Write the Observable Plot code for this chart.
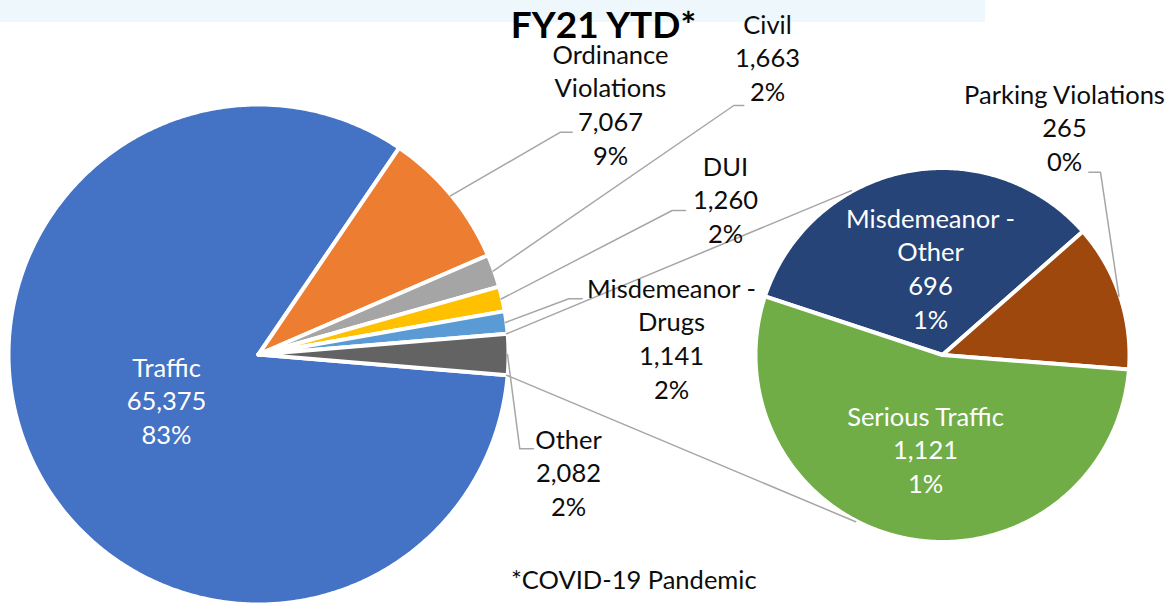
<!DOCTYPE html>
<html><head><meta charset="utf-8">
<script src="https://cdn.jsdelivr.net/npm/d3@7"></script>
<script src="https://cdn.jsdelivr.net/npm/@observablehq/plot@0.6"></script>
<style>
html,body{margin:0;padding:0;background:#fff;}
#wrap{position:relative;width:1171px;height:603px;overflow:hidden;}
#band{position:absolute;left:0;top:0;width:985px;height:22px;background:#EEF7FB;}
#chart{position:absolute;left:0;top:0;}
</style></head>
<body><div id="wrap"><div id="band"></div><div id="chart"></div></div>
<script>
// ---- data ----
const mainLabels = ["Traffic", "Ordinance\nViolations", "Civil", "DUI", "Misdemeanor -\nDrugs", "Other"];
const mainValues = [65375, 7067, 1663, 1260, 1141, 2082];
const mainPct = ["83%", "9%", "2%", "2%", "2%", "2%"];
const subLabels = ["Misdemeanor -\nOther", "Parking Violations", "Serious Traffic"];
const subValues = [696, 265, 1121];
const subPct = ["1%", "0%", "1%"];
const mainColors = ["#4472C4", "#ED7D31", "#A5A5A5", "#FFC000", "#5B9BD5", "#636363"];
const subColors = ["#264478", "#9E480E", "#70AD47"];
const titleText = "FY21 YTD*";
const noteText = "*COVID-19 Pandemic";

// ---- layout ----
const W = 1171, H = 603;
const FONT = "Lato, 'Open Sans', sans-serif";
const FS = 25.5, LINE = 33.7;
const mainPie = {cx: 258, cy: 354, r: 250};
const subPie = {cx: 942, cy: 354.5, r: 187, start: -71.7};
// label placement: centre x, first baseline y, leader elbow [x,y] and end x, white text?
const mainLayout = [
  {x: 166, y: 376, white: true},
  {x: 610, y: 63, elbow: [560, 131.7], end: 571.7},
  {x: 767, y: 33, elbow: [733.3, 105], end: 743.3},
  {x: 725, y: 175, elbow: [671.7, 210], end: 685},
  {x: 671, y: 297, elbow: [568.3, 298.3], end: 581.7},
  {x: 568, y: 448, elbow: [519.3, 448.3], end: 533}
];
const subLayout = [
  {x: 930, y: 227, white: true},
  {x: 1064, y: 103, elbow: [1100, 171.7], end: 1088.3},
  {x: 925, y: 425, white: true}
];
const connectorEnds = [-29, 207.5]; // degrees on secondary circle
const connectorR = 188;
const leaderR = 249;

// ---- geometry ----
const rad = Math.PI / 180;
const total = d3.sum(mainValues);
const otherSpan = 2 * Math.PI * mainValues[mainValues.length - 1] / total;
const mainStart = Math.PI / 2 + otherSpan / 2;
const mainArcs = d3.pie().sort(null).startAngle(mainStart).endAngle(mainStart + 2 * Math.PI)(mainValues);
const subArcs = d3.pie().sort(null).startAngle(subPie.start * rad).endAngle(subPie.start * rad + 2 * Math.PI)(subValues);
const key = s => s.replace("\n", " ");
const pt = (p, r, a) => [p.cx + r * Math.sin(a), p.cy - r * Math.cos(a)];

const sliceRows = [];
function addSlice(p, arc, name) {
  const n = Math.max(4, Math.ceil((arc.endAngle - arc.startAngle) / (0.5 * rad)));
  sliceRows.push({key: name, x: p.cx, y: p.cy});
  for (let i = 0; i <= n; i++) {
    const [x, y] = pt(p, p.r, arc.startAngle + (arc.endAngle - arc.startAngle) * i / n);
    sliceRows.push({key: name, x, y});
  }
  sliceRows.push({key: name, x: p.cx, y: p.cy});
}
mainArcs.forEach((a, i) => addSlice(mainPie, a, key(mainLabels[i])));
subArcs.forEach((a, i) => addSlice(subPie, a, key(subLabels[i])));

const leaderRows = [];
function addLeader(p, arc, lay, name) {
  if (!lay.elbow) return;
  const mid = (arc.startAngle + arc.endAngle) / 2;
  const r = p === mainPie ? leaderR : p.r - 1;
  const [x0, y0] = pt(p, r, mid);
  leaderRows.push({key: name, x: x0, y: y0});
  leaderRows.push({key: name, x: lay.elbow[0], y: lay.elbow[1]});
  leaderRows.push({key: name, x: lay.end, y: lay.elbow[1]});
}
mainArcs.forEach((a, i) => addLeader(mainPie, a, mainLayout[i], key(mainLabels[i])));
subArcs.forEach((a, i) => addLeader(subPie, a, subLayout[i], key(subLabels[i])));

const otherArc = mainArcs[mainArcs.length - 1];
const connRows = [];
[otherArc.startAngle, otherArc.endAngle].forEach((a, i) => {
  const [x0, y0] = pt(mainPie, leaderR, a);
  const [x1, y1] = pt(subPie, connectorR, connectorEnds[i] * rad);
  connRows.push({key: "c" + i, x: x0, y: y0}, {key: "c" + i, x: x1, y: y1});
});

const fmt = d3.format(",");
const labelRows = [];
mainLabels.forEach((l, i) => labelRows.push({text: l + "\n" + fmt(mainValues[i]) + "\n" + mainPct[i], ...mainLayout[i]}));
subLabels.forEach((l, i) => labelRows.push({text: l + "\n" + fmt(subValues[i]) + "\n" + subPct[i], ...subLayout[i]}));
const lh = LINE / FS;
labelRows.forEach(d => d.ya = d.y - 0.71 * lh * FS);

const allKeys = mainLabels.map(key).concat(subLabels.map(key));
const allColors = mainColors.concat(subColors);

const chart = Plot.plot({
  width: W, height: H, margin: 0,
  style: {background: "transparent", fontFamily: FONT},
  x: {domain: [0, W], range: [0, W], axis: null},
  y: {domain: [0, H], range: [0, H], axis: null},
  color: {domain: allKeys, range: allColors},
  marks: [
    Plot.line(sliceRows, {x: "x", y: "y", z: "key", fill: "key", stroke: "white", strokeWidth: 4, curve: "linear"}),
    Plot.line(leaderRows, {x: "x", y: "y", z: "key", stroke: "#A6A6A6", strokeWidth: 1.5}),
    Plot.line(connRows, {x: "x", y: "y", z: "key", stroke: "#A6A6A6", strokeWidth: 1.5}),
    Plot.text(labelRows.filter(d => !d.white), {x: "x", y: "ya", text: "text", fill: "#0D0D0D", fontSize: FS, lineHeight: lh, lineAnchor: "top", textAnchor: "middle"}),
    Plot.text(labelRows.filter(d => d.white), {x: "x", y: "ya", text: "text", fill: "white", fontSize: FS, lineHeight: lh, lineAnchor: "top", textAnchor: "middle"}),
    Plot.text([titleText], {x: () => 603, y: () => 37.7, text: d => d, fontSize: 37, fontWeight: "bold", fill: "black", lineAnchor: "bottom", textAnchor: "middle"}),
    Plot.text([noteText], {x: () => 510.5, y: () => 588.3, text: d => d, fontSize: FS, fill: "#0D0D0D", lineAnchor: "bottom", textAnchor: "start"})
  ]
});
document.getElementById("chart").appendChild(chart);
</script></body></html>
